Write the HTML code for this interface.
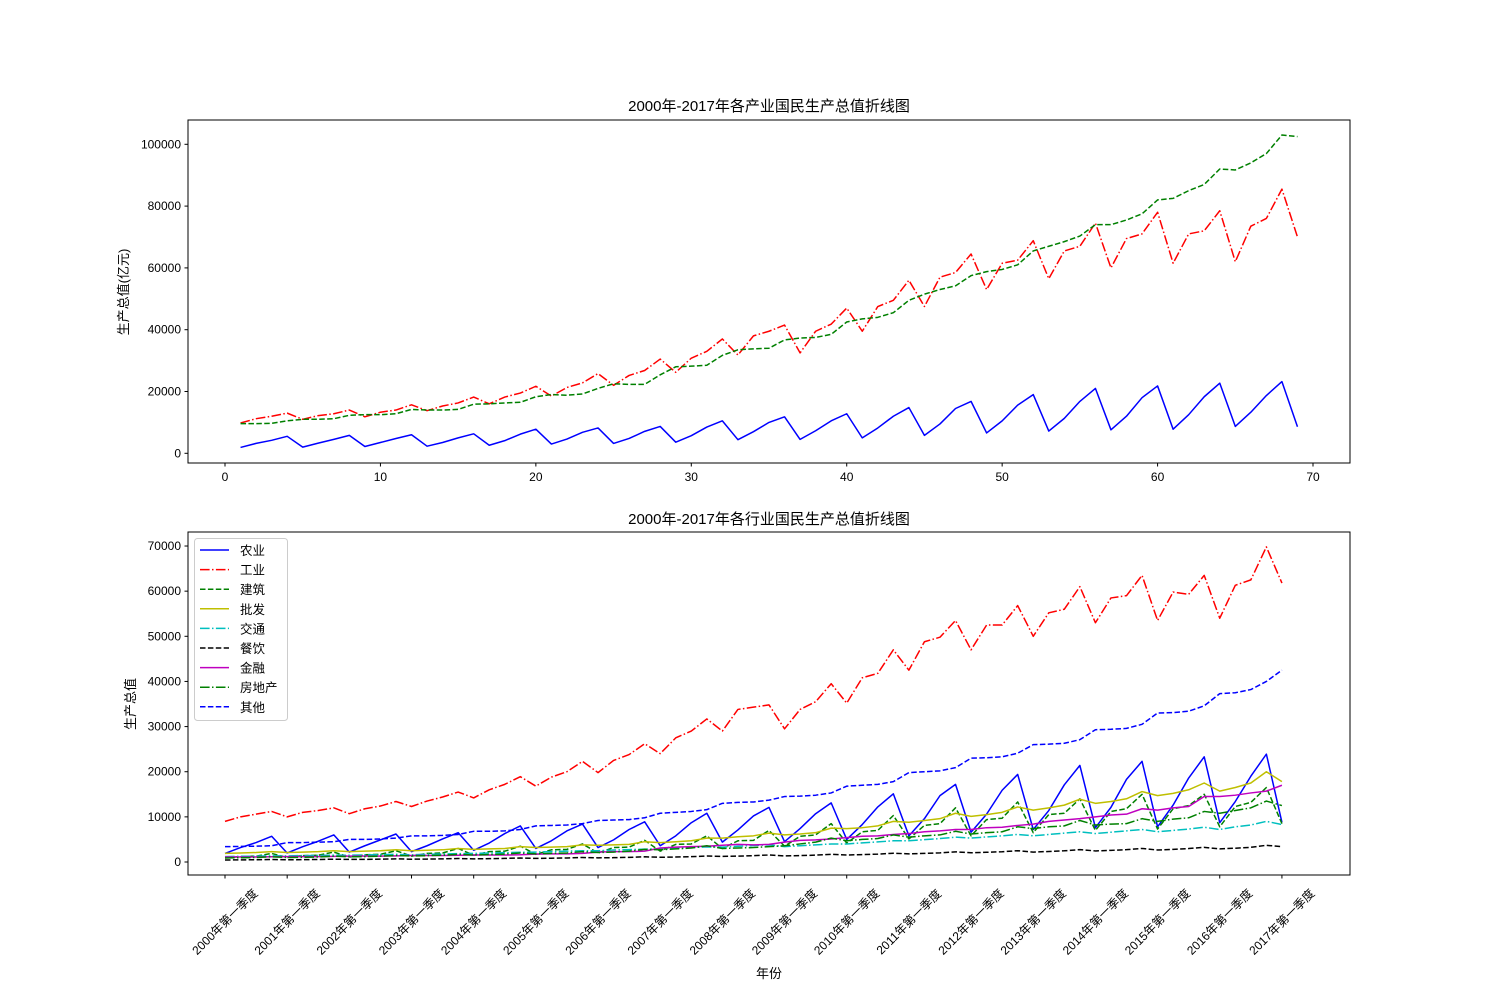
<!DOCTYPE html>
<html><head><meta charset="utf-8">
<style>
html,body{margin:0;padding:0;background:#fff;}
svg{display:block;font-family:"Liberation Sans","Noto Sans CJK SC",sans-serif;}
</style></head>
<body>
<svg id="chart" width="1500" height="1000" viewBox="0 0 1500 1000" xmlns="http://www.w3.org/2000/svg">
<rect x="0" y="0" width="1500" height="1000" fill="#fff"/>
<g id="top"></g>
<g id="bot"></g>
</svg>
<script>
// ---- top chart data (x = 1..69) ----
const topPrimary = [1900,3200,4200,5500, 2000,3300,4500,5800, 2200,3500,4800,6000, 2300,3500,5000,6300, 2600,4100,6200,7800, 3000,4600,6800,8200, 3200,4800,7100,8700, 3600,5700,8500,10500, 4400,7000,10000,11800, 4500,7300,10500,12800, 5000,8200,12000,14800, 5800,9500,14500,16800, 6600,10500,15600,19000, 7200,11300,16800,21000, 7600,12000,18000,21800, 7800,12500,18300,22700, 8700,13300,18700,23200, 8600];
const topSecondary = [9800,11200,12000,13000, 11000,12200,12800,14000, 11800,13300,14000,15700, 13800,15300,16300,18200, 16000,18200,19500,21700, 18500,21300,22800,25800, 22000,25200,26800,30500, 26200,30800,33000,37000, 31800,38000,39500,41500, 32500,39500,41800,47000, 39500,47500,49500,56000, 47500,57000,58500,64500, 53000,61500,62500,68800, 56500,65500,67000,74500, 60000,69500,71000,78000, 61500,71000,72000,78500, 62000,73500,76000,85500, 70000];
const topTertiary = [9600,9600,9700,10500, 11000,11000,11200,12300, 12500,12500,12800,14200, 14000,14000,14200,15900, 16000,16300,16500,18300, 19000,18800,19200,21000, 22500,22300,22300,25400, 28000,28200,28500,31700, 33500,33800,34000,36700, 37300,37500,38500,42500, 43500,44000,45500,49500, 51500,53000,54200,57500, 58800,59500,61000,65500, 67000,68500,70300,74000, 74000,75500,77500,82000, 82500,85000,87000,92000, 91700,94000,97000,103000, 102500];
const topXTicks = [0,10,20,30,40,50,60,70];
const topYTicks = [0,20000,40000,60000,80000,100000];

// ---- bottom chart data (index 0..68) ----
const agri = [1900,3200,4300,5700, 2000,3400,4600,6000, 2200,3600,4900,6200, 2300,3600,5100,6500, 2600,4200,6300,8000, 3000,4700,6900,8400, 3200,4900,7200,8900, 3600,5800,8700,10800, 4400,7100,10200,12100, 4500,7400,10700,13100, 5000,8300,12200,15100, 5800,9600,14700,17200, 6600,10600,15900,19400, 7200,11400,17100,21400, 7600,12100,18300,22300, 7800,12600,18600,23300, 8700,13400,19000,23900, 8800];
const industry = [9000,10000,10600,11200, 10000,11000,11400,12000, 10700,11800,12400,13400, 12300,13500,14400,15500, 14200,16000,17200,18900, 16800,18800,20000,22300, 19800,22500,23800,26200, 24000,27500,29000,31700, 29000,33800,34300,34800, 29500,33800,35500,39500, 35200,40800,41800,47000, 42500,48800,49800,53500, 47000,52500,52500,56800, 50000,55200,56000,61000, 53000,58500,59000,63500, 53500,59800,59300,63500, 54000,61300,62500,69800, 61800];
const construction = [900,1200,1300,1900, 1000,1400,1500,2200, 1100,1600,1700,2500, 1300,1900,2000,3000, 1500,2300,2400,3500, 1700,2700,2800,4000, 2000,3200,3300,4800, 2400,3900,4000,5800, 3000,4700,4800,7000, 3500,5700,6000,8500, 4200,6700,7000,10300, 5100,8100,8500,12000, 5800,9400,9700,13300, 6500,10500,10800,14000, 7000,11200,11800,15000, 7300,11800,12500,15000, 7800,12300,13200,16500, 8500];
const wholesale = [1900,2000,2100,2300, 2100,2200,2300,2500, 2300,2400,2500,2700, 2500,2600,2700,3000, 2800,2900,3000,3400, 3200,3300,3400,3800, 3700,3800,3900,4500, 4300,4500,4700,5300, 5300,5600,5800,6400, 6000,6200,6500,7500, 7400,7600,8000,9000, 8800,9200,9600,10800, 10100,10500,11000,12200, 11500,12000,12600,13900, 13000,13400,14000,15600, 14700,15200,16000,17500, 15700,16500,17500,20000, 17800];
const transport = [1200,1260,1300,1350, 1350,1420,1460,1520, 1500,1580,1620,1700, 1600,1700,1780,1850, 1900,2000,2070,2150, 2200,2300,2400,2500, 2500,2650,2750,2850, 2900,3050,3200,3350, 3300,3500,3650,3800, 3400,3600,3800,4000, 4000,4250,4450,4700, 4700,4950,5200,5500, 5300,5550,5800,6100, 5800,6100,6400,6700, 6300,6600,6900,7200, 6700,7000,7300,7700, 7200,7800,8200,9000, 8300];
const catering = [450,470,500,560, 500,520,560,620, 570,590,630,700, 620,650,700,780, 700,740,790,880, 800,840,900,1000, 920,960,1030,1150, 1050,1100,1180,1320, 1250,1300,1400,1550, 1350,1420,1520,1700, 1550,1640,1750,1950, 1800,1900,2020,2250, 2050,2150,2280,2500, 2200,2330,2480,2750, 2450,2580,2730,3000, 2650,2800,2980,3250, 2900,3060,3250,3700, 3400];
const finance = [1100,1100,1100,1150, 1200,1200,1200,1250, 1300,1300,1300,1350, 1450,1450,1450,1500, 1550,1550,1550,1600, 1750,1800,1800,1900, 2200,2300,2300,2400, 3100,3300,3400,3500, 3700,3900,3800,3900, 4400,4800,4900,5100, 5400,5700,5800,6100, 6300,6700,6900,7200, 7200,7600,7700,8100, 8400,9000,9300,9600, 10000,10400,10600,11800, 11500,12000,12300,14500, 14500,14800,15300,15700, 17000];
const realEstate = [900,950,1000,1150, 1000,1050,1100,1300, 1150,1200,1280,1450, 1350,1400,1500,1700, 1550,1650,1750,2000, 1800,1900,2000,2300, 2100,2200,2400,2800, 2700,2900,3100,3600, 3000,3100,3200,3400, 3600,4000,4400,5300, 4700,5000,5200,6000, 5500,5800,6000,6800, 6200,6500,6700,7800, 7400,7800,8000,9200, 8200,8400,8500,9600, 9000,9500,9800,11200, 10800,11400,12000,13500, 12500];
const others = [3400,3450,3500,3600, 4300,4300,4400,4500, 5000,5000,5100,5300, 5800,5800,5900,6100, 6800,6800,6900,7200, 8000,8100,8200,8500, 9200,9300,9400,9800, 10800,11000,11200,11600, 13000,13200,13300,13700, 14500,14600,14800,15300, 16800,17000,17200,17800, 19800,20000,20200,20900, 23000,23100,23300,24100, 26000,26100,26300,27100, 29300,29400,29600,30500, 33000,33100,33400,34600, 37300,37500,38200,40000, 42500];
const botYTicks = [0,10000,20000,30000,40000,50000,60000,70000];
const yearLabels = ["2000","2001","2002","2003","2004","2005","2006","2007","2008","2009","2010","2011","2012","2013","2014","2015","2016","2017"];
const legendNames = ["农业","工业","建筑","批发","交通","餐饮","金融","房地产","其他"];

const NS = "http://www.w3.org/2000/svg";
function mk(tag, attrs, parent, text){
  const e = document.createElementNS(NS, tag);
  for (const k in attrs) e.setAttribute(k, attrs[k]);
  if (text !== undefined) e.textContent = text;
  parent.appendChild(e);
  return e;
}
const DASH = "5.5,2.4", DASHDOT = "9.6,2.4,1.5,2.4";
const AX = {left:188, right:1350};
const xs = v => 225 + v * 15.543;

function axesFrame(g, top, bottom, name){
  const r = mk('rect', {x:AX.left, y:top, width:AX.right-AX.left, height:bottom-top, fill:'none', stroke:'#000', 'stroke-width':1}, g);
  
  
}
function drawLine(g, vals, xf, yf, color, dash, name){
  let d = '';
  vals.forEach((v,i)=>{ d += (i? 'L':'M') + xf(i).toFixed(2) + ',' + yf(v).toFixed(2); });
  const p = mk('path', {d:d, fill:'none', stroke:color, 'stroke-width':1.5, 'stroke-linejoin':'round'}, g);
  if (dash) p.setAttribute('stroke-dasharray', dash);
  
  
}

// ---------- TOP ----------
(function(){
  const g = document.getElementById('top');
  const T = 120, B = 463;
  const ys = v => 453.3 - v * 0.003090;
  axesFrame(g, T, B, 'top-plot-area');
  topXTicks.forEach(t=>{
    const x = xs(t);
    mk('line', {x1:x, x2:x, y1:B, y2:B+3.5, stroke:'#000'}, g);
    const tx = mk('text', {x:x, y:B+18, 'font-size':12, 'text-anchor':'middle'}, g, String(t));
    
    
  });
  topYTicks.forEach(t=>{
    const y = ys(t);
    mk('line', {x1:AX.left-3.5, x2:AX.left, y1:y, y2:y, stroke:'#000'}, g);
    const tx = mk('text', {x:AX.left-7, y:y+4, 'font-size':12, 'text-anchor':'end'}, g, String(t));
    
    
  });
  const xf = i => xs(i+1);
  drawLine(g, topPrimary, xf, ys, '#0000ff', null, 'primary-industry-line');
  drawLine(g, topSecondary, xf, ys, '#ff0000', DASHDOT, 'secondary-industry-line');
  drawLine(g, topTertiary, xf, ys, '#008000', DASH, 'tertiary-industry-line');
  const ti = mk('text', {x:769, y:111, 'font-size':15, 'text-anchor':'middle'}, g, '2000年-2017年各产业国民生产总值折线图');
  
  
  const yl = mk('text', {x:0, y:0, 'font-size':13, 'text-anchor':'middle', transform:'translate(128,292) rotate(-90)'}, g, '生产总值(亿元)');
  
  
})();

// ---------- BOTTOM ----------
(function(){
  const g = document.getElementById('bot');
  const T = 532, B = 875;
  const ys = v => 862 - v * 0.004514;
  axesFrame(g, T, B, 'bottom-plot-area');
  yearLabels.forEach((yr,k)=>{
    const x = xs(k*4);
    mk('line', {x1:x, x2:x, y1:B, y2:B+3.5, stroke:'#000'}, g);
    const tx = mk('text', {x:0, y:4, 'font-size':12, 'text-anchor':'middle', transform:'translate('+x+',922) rotate(-45)'}, g, yr + '年第一季度');
    
    
  });
  botYTicks.forEach(t=>{
    const y = ys(t);
    mk('line', {x1:AX.left-3.5, x2:AX.left, y1:y, y2:y, stroke:'#000'}, g);
    const tx = mk('text', {x:AX.left-7, y:y+4, 'font-size':12, 'text-anchor':'end'}, g, String(t));
    
    
  });
  const series = [
    [agri,'#0000ff',null,'agriculture-line'],
    [industry,'#ff0000',DASHDOT,'industry-line'],
    [construction,'#008000',DASH,'construction-line'],
    [wholesale,'#bfbf00',null,'wholesale-line'],
    [transport,'#00bfbf',DASHDOT,'transport-line'],
    [catering,'#000000',DASH,'catering-line'],
    [finance,'#bf00bf',null,'finance-line'],
    [realEstate,'#008000',DASHDOT,'real-estate-line'],
    [others,'#0000ff',DASH,'others-line']
  ];
  series.forEach(s=> drawLine(g, s[0], xs, ys, s[1], s[2], s[3]));
  // legend
  const lg = mk('g', {}, g);
  
  
  mk('rect', {x:194.5, y:538.5, width:93, height:182, rx:3, fill:'#fff', 'fill-opacity':0.8, stroke:'#ccc'}, lg);
  legendNames.forEach((n,k)=>{
    const y = 550 + k*19.6;
    const e = mk('g', {}, lg);
    
    
    const l = mk('line', {x1:200, x2:229, y1:y, y2:y, stroke:series[k][1], 'stroke-width':1.5}, e);
    if (series[k][2]) l.setAttribute('stroke-dasharray', series[k][2]);
    mk('text', {x:240, y:y+5, 'font-size':12.5}, e, n);
  });
  const ti = mk('text', {x:769, y:524, 'font-size':15, 'text-anchor':'middle'}, g, '2000年-2017年各行业国民生产总值折线图');
  
  
  const yl = mk('text', {x:0, y:0, 'font-size':13, 'text-anchor':'middle', transform:'translate(135,704) rotate(-90)'}, g, '生产总值');
  
  
  const xl = mk('text', {x:769, y:978, 'font-size':13, 'text-anchor':'middle'}, g, '年份');
  
  
})();
</script>
</body></html>
